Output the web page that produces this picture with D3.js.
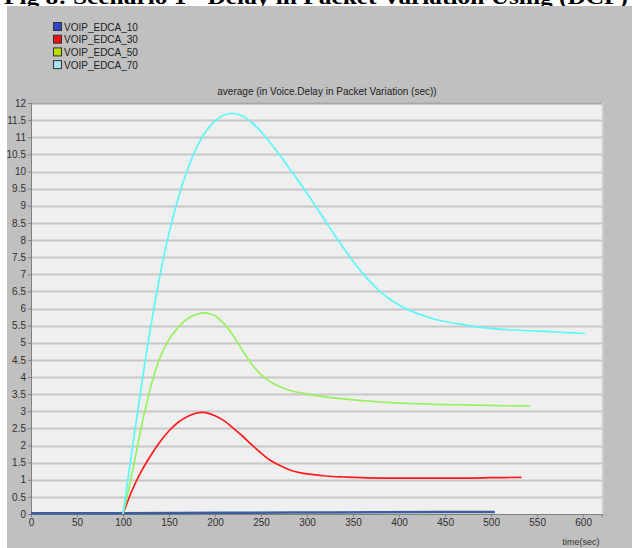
<!DOCTYPE html>
<html><head><meta charset="utf-8">
<script src="https://cdn.jsdelivr.net/npm/d3@7"></script>
<style>
html,body{margin:0;padding:0;background:#fff;}
svg{display:block;}
</style></head>
<body>
<svg id="chart" width="632" height="548"></svg>
<script>
const caption = "Fig 8: Scenario 1 - Delay in Packet Variation Using (DCF)";
const chartTitle = "average (in Voice.Delay in Packet Variation (sec))";
const xLabel = "time(sec)";
const seriesNames = ["VOIP_EDCA_10", "VOIP_EDCA_30", "VOIP_EDCA_50", "VOIP_EDCA_70"];
const lineColors = ["#3b5f9c", "#ff1a1a", "#99f060", "#5cf8f8"];
const legendColors = ["#3344cc", "#ee1111", "#bbdd00", "#a8e4f0"];
const xTicks = [0,50,100,150,200,250,300,350,400,450,500,550,600];
const yTicks = [0,0.5,1,1.5,2,2.5,3,3.5,4,4.5,5,5.5,6,6.5,7,7.5,8,8.5,9,9.5,10,10.5,11,11.5,12];

const edca10 = [[0,0.02],[100,0.02],[210,0.035],[330,0.045],[450,0.055],[504,0.06]];
const edca30 = [[100,0],[110,0.7],[120,1.25],[130,1.7],[140,2.1],[150,2.43],[160,2.68],[170,2.85],[180,2.95],[186,2.97],[190,2.96],[200,2.87],[210,2.72],[220,2.5],[230,2.27],[240,2.02],[250,1.78],[260,1.57],[270,1.42],[280,1.3],[290,1.22],[300,1.17],[320,1.11],[340,1.08],[360,1.06],[380,1.05],[400,1.05],[440,1.05],[480,1.05],[500,1.06],[533,1.07]];
const edca50 = [[100,0],[110,1.2],[120,2.55],[130,3.7],[140,4.55],[150,5.1],[160,5.45],[170,5.7],[180,5.83],[190,5.87],[200,5.78],[210,5.55],[220,5.2],[230,4.77],[240,4.37],[250,4.07],[260,3.86],[270,3.72],[280,3.62],[300,3.5],[320,3.42],[340,3.36],[360,3.31],[380,3.27],[400,3.24],[420,3.22],[440,3.2],[460,3.19],[480,3.18],[500,3.17],[520,3.16],[543,3.16]];
const edca70 = [[100,0],[110,1.9],[120,3.75],[130,5.45],[140,6.95],[150,8.2],[160,9.22],[170,10.05],[180,10.7],[190,11.17],[200,11.48],[210,11.65],[218,11.7],[230,11.62],[240,11.43],[250,11.16],[260,10.84],[270,10.49],[280,10.12],[290,9.75],[300,9.36],[310,8.96],[320,8.55],[330,8.14],[340,7.75],[350,7.38],[360,7.04],[370,6.74],[380,6.48],[390,6.27],[400,6.1],[410,5.96],[420,5.85],[430,5.76],[440,5.68],[450,5.62],[460,5.57],[480,5.48],[500,5.42],[520,5.38],[540,5.35],[560,5.33],[580,5.3],[602,5.27]];
const seriesData = [edca10, edca30, edca50, edca70];

const svg = d3.select("#chart");
const W = 632, H = 548;
const plot = {left: 31, right: 602, top: 103, bottom: 514};

// caption (cut off at top, as in the reference)
svg.append("text").attr("x", 4).attr("y", 4)
  .attr("font-family", "Liberation Serif, Times New Roman, serif")
  .attr("font-weight", "bold").attr("font-size", 22)
  .attr("textLength", 624).attr("lengthAdjust", "spacingAndGlyphs")
  .attr("fill", "#000").text(caption);

// grey panel
svg.append("rect").attr("x", 7).attr("y", 6).attr("width", W - 7).attr("height", H - 6).attr("fill", "#c0c0c0");

const x = d3.scaleLinear().domain([0, 620.5]).range([plot.left, plot.right]);
const y = d3.scaleLinear().domain([0, 12]).range([plot.bottom, plot.top]);

// plot background
svg.append("rect").attr("x", plot.left).attr("y", plot.top)
  .attr("width", plot.right - plot.left).attr("height", plot.bottom - plot.top)
  .attr("fill", "#efefef");

// gridlines
svg.append("g").selectAll("line").data(yTicks.filter(d => d > 0)).join("line")
  .attr("x1", plot.left).attr("x2", plot.right)
  .attr("y1", d => Math.round(y(d)) + 0.5).attr("y2", d => Math.round(y(d)) + 0.5)
  .attr("stroke", d => d === 12 ? "#a8a8a8" : "#c8c8c8").attr("stroke-width", 2);

// right border
svg.append("line").attr("x1", plot.right + 0.5).attr("x2", plot.right + 0.5)
  .attr("y1", plot.top).attr("y2", plot.bottom).attr("stroke", "#d4d4d4").attr("stroke-width", 1.5);

// axes
const yAxis = d3.axisLeft(y).tickValues(yTicks).tickSize(3).tickPadding(2).tickFormat(d => d3.format("")(d));
const gy = svg.append("g").attr("transform", `translate(${plot.left},0)`).call(yAxis);
gy.select(".domain").attr("stroke", "#808080");
gy.selectAll(".tick line").attr("stroke", "#808080");
gy.selectAll("text").attr("font-family", "Liberation Sans, Arial, sans-serif").attr("font-size", 10).attr("fill", "#303030");

const xAxis = d3.axisBottom(x).tickValues(xTicks).tickSize(3).tickPadding(2);
const gx = svg.append("g").attr("transform", `translate(0,${plot.bottom})`).call(xAxis);
gx.select(".domain").attr("stroke", "#808080");
gx.selectAll(".tick line").attr("stroke", "#808080");
gx.selectAll("text").attr("font-family", "Liberation Sans, Arial, sans-serif").attr("font-size", 10).attr("fill", "#303030");

// series lines
const line = d3.line().x(d => x(d[0])).y(d => y(d[1])).curve(d3.curveCatmullRom.alpha(0.5));
svg.append("g").selectAll("path").data(seriesData).join("path")
  .attr("d", line).attr("fill", "none")
  .attr("stroke", (d, i) => lineColors[i])
  .attr("stroke-width", (d, i) => i === 0 ? 2.5 : 1.7);

// chart title
svg.append("text").attr("x", 327).attr("y", 95).attr("text-anchor", "middle")
  .attr("font-family", "Liberation Sans, Arial, sans-serif").attr("font-size", 10).attr("fill", "#202020")
  .text(chartTitle);

// x label
svg.append("text").attr("x", 581).attr("y", 545).attr("text-anchor", "middle")
  .attr("font-family", "Liberation Sans, Arial, sans-serif").attr("font-size", 9).attr("fill", "#303030")
  .text(xLabel);

// legend
const legend = svg.append("g");
const rows = legend.selectAll("g").data(seriesNames).join("g")
  .attr("transform", (d, i) => `translate(53,${27 + i * 12.7})`);
rows.append("rect").attr("x", 0.5).attr("y", -4.5).attr("width", 8).attr("height", 8)
  .attr("fill", (d, i) => legendColors[i]).attr("stroke", "#333").attr("stroke-width", 1);
rows.append("text").attr("x", 11).attr("y", 3.5)
  .attr("font-family", "Liberation Sans, Arial, sans-serif").attr("font-size", 10).attr("fill", "#202020")
  .text(d => d);
</script>
</body></html>
